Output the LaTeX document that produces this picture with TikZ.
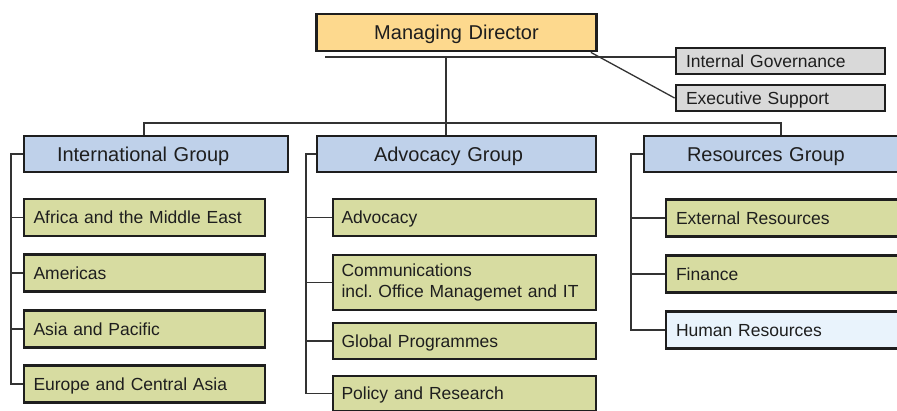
\documentclass[tikz,border=0pt]{standalone}
\usepackage{fontspec}
\setmainfont{Liberation Sans}
\frenchspacing
\definecolor{mdfill}{HTML}{FDD98E}
\definecolor{grpfill}{HTML}{BFD1EA}
\definecolor{subfill}{HTML}{D7DCA1}
\definecolor{grayfill}{HTML}{D9D9D9}
\definecolor{hrfill}{HTML}{E9F3FC}
\definecolor{edgec}{HTML}{1E1E1E}
\definecolor{conn}{HTML}{333333}
\begin{document}
\begin{tikzpicture}[x=1pt,y=-1pt,
  box/.style={draw=edgec, line width=2.8pt, rectangle, inner ysep=0pt, text=edgec, align=left},
  bigtxt/.style={font=\fontsize{20}{24}\selectfont, text height=14.4pt, text depth=0pt},
  smalltxt/.style={font=\fontsize{17.5}{21}\selectfont, text height=12.6pt, text depth=0pt},
  md/.style={box, bigtxt, fill=mdfill, align=center, inner xsep=10pt, text width=260pt, minimum height=37pt},
  side/.style={box, smalltxt, fill=grayfill, inner xsep=10pt, text width=189pt, minimum height=26pt},
  grp/.style={box, bigtxt, fill=grpfill, minimum height=36pt},
  isub/.style={box, smalltxt, fill=subfill, inner xsep=9.5pt, text width=222pt, minimum height=37pt},
  asub/.style={box, smalltxt, fill=subfill, inner xsep=8.5pt, text width=246pt, minimum height=37pt},
  rsub/.style={box, smalltxt, fill=subfill, inner xsep=10pt, text width=238pt, minimum height=37pt},
  link/.style={draw=conn, line width=1.3pt}
]
\useasboundingbox (0,0) rectangle (897,410);

% top
\node[md] (MD) at (456.5,32.5) {Managing Director};
\node[side] (IG) at (780.5,61) {Internal Governance};
\node[side] (ES) at (780.5,98) {Executive Support};

% groups
\node[grp, inner xsep=33pt, text width=198pt] (IntG) at (156,154) {International Group};
\node[grp, inner xsep=57pt, text width=165pt] (AdvG) at (456.5,154) {Advocacy Group};
\node[grp, inner xsep=43pt, text width=194pt] (ResG) at (784,154) {Resources Group};

% international
\node[isub] (Af) at (144.5,217.5) {Africa and the Middle East};
\node[isub] (Am) at (144.5,273) {Americas};
\node[isub] (As) at (144.5,329) {Asia and Pacific};
\node[isub] (Eu) at (144.5,384) {Europe and Central Asia};

% advocacy
\node[asub] (Ad) at (464.5,217.5) {Advocacy};
\node[asub, minimum height=55pt, text height=, text depth=] (Co) at (464.5,282.5) {Communications\\incl. Office Managemet and IT};
\node[asub, minimum height=36pt] (Gp) at (464.5,341) {Global Programmes};
\node[asub, minimum height=35pt] (Pr) at (464.5,393.5) {Policy and Research};

% resources
\node[rsub] (Ex) at (795,218) {External Resources};
\node[rsub] (Fi) at (795,274) {Finance};
\node[rsub, fill=hrfill] (Hr) at (795,330) {Human Resources};

% connectors at top
\coordinate (hl) at (325,57);
\coordinate (trunkA) at (446,123);
\coordinate (trunkL) at (144,123);
\coordinate (trunkR) at (781,123);
\draw[link] (hl) -- (hl -| IG.west);
\draw[link] ([xshift=-7pt]MD.south east) -- (ES.west);
\draw[link] (hl -| trunkA) -- (trunkA |- AdvG.north);
\draw[link] (trunkL |- IntG.north) -- (trunkL) -- (trunkR) -- (trunkR |- ResG.north);

% brackets
\coordinate (ib) at (11,0);
\coordinate (ab) at (306,0);
\coordinate (rb) at (631,0);
\draw[link] (IntG.west) -- (IntG.west -| ib) |- (Eu.west);
\foreach \n in {Af,Am,As}{\draw[link] (\n.west -| ib) -- (\n.west);}
\draw[link] (AdvG.west) -- (AdvG.west -| ab) |- (Pr.west);
\foreach \n in {Ad,Co,Gp}{\draw[link] (\n.west -| ab) -- (\n.west);}
\draw[link] (ResG.west) -- (ResG.west -| rb) |- (Hr.west);
\foreach \n in {Ex,Fi}{\draw[link] (\n.west -| rb) -- (\n.west);}
\end{tikzpicture}
\end{document}
